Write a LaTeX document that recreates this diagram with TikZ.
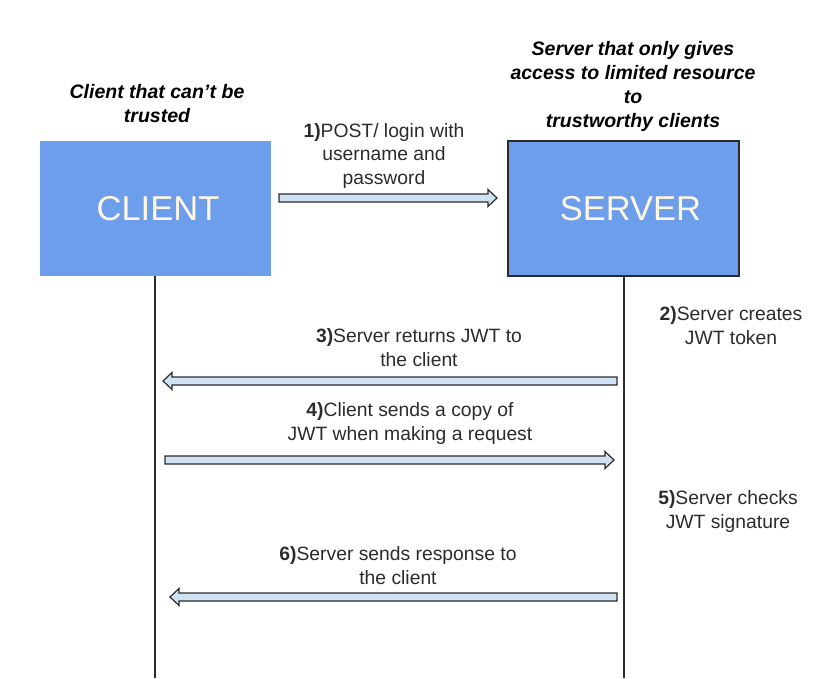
\documentclass[tikz,border=0pt]{standalone}
\usepackage{fontspec}
\setmainfont{Liberation Sans}
\usepackage{xcolor}
\usetikzlibrary{calc}

\definecolor{boxblue}{HTML}{6D9EEB}
\definecolor{arrowfill}{HTML}{CFE2F3}
\definecolor{inkgray}{HTML}{2B2B2B}
\definecolor{boxtext}{HTML}{FFF6E0}

\tikzset{
  party/.style={fill=boxblue,minimum width=231pt,minimum height=135pt,inner sep=0pt,
    text=boxtext,font=\fontsize{34.5}{38}\selectfont},
  lifeline/.style={draw=inkgray,line width=1.2pt},
  msg/.style={draw=inkgray,fill=arrowfill,line width=1.2pt,line join=miter},
  steptext/.style={align=center,text=inkgray,font=\fontsize{19.3}{23.5}\selectfont},
  headtext/.style={align=center,text=black,font=\fontsize{19.5}{24}\selectfont\bfseries\itshape}
}

% block arrow from #1 to #2
\newcommand\msgarrow[2]{%
  \draw[msg] ($(#1)+(0,-4)$) -- ($(#2)!9pt!(#1)+(0,-4)$) -- ($(#2)!9pt!(#1)+(0,-8.5)$)
    -- (#2) -- ($(#2)!9pt!(#1)+(0,8.5)$) -- ($(#2)!9pt!(#1)+(0,4)$) -- ($(#1)+(0,4)$) -- cycle;}

\begin{document}
\begin{tikzpicture}[x=1pt,y=-1pt]
  \useasboundingbox (0,0) rectangle (832,678);

  % the two parties
  \node[party] (client) at (155.5,208.5) {\hspace*{5pt}CLIENT};
  \node[party,draw=inkgray,line width=1.2pt] (server) at (623.5,208.5) {\hspace*{14pt}SERVER};

  \node[headtext] (clienthead) at (157,104) {Client that can’t be\\trusted};
  \node[headtext] (serverhead) at (633,86) {Server that only gives\\access to limited resource\\to\\trustworthy clients};

  % lifelines
  \coordinate (cend) at (155,678);
  \coordinate (send) at (624,678);
  \draw[lifeline] (client.south -| cend) -- (cend);
  \draw[lifeline] (server.south -| send) -- (send);

  % message ends
  \coordinate (c1) at (279,198);  \coordinate (s1) at (497,198);
  \coordinate (s3) at (617,381);  \coordinate (c3) at (163,381);
  \coordinate (c4) at (165,460);  \coordinate (s4) at (614,460);
  \coordinate (s6) at (617,597);  \coordinate (c6) at (170,597);

  \msgarrow{c1}{s1}
  \msgarrow{s3}{c3}
  \msgarrow{c4}{s4}
  \msgarrow{s6}{c6}

  % step labels
  \node[steptext] (step1) at (384,156) {\textbf{1)}POST/ login with\\username and\\password};
  \node[steptext] (step2) at (731,325.5) {\textbf{2)}Server creates\\JWT token};
  \node[steptext] (step3) at (419,347.5) {\textbf{3)}Server returns JWT to\\the client};
  \node[steptext] (step4) at (410,423.5) {\textbf{4)}Client sends a copy of\\JWT when making a request};
  \node[steptext] (step5) at (728,511.5) {\textbf{5)}Server checks\\JWT signature};
  \node[steptext] (step6) at (398,565.5) {\textbf{6)}Server sends response to\\the client};
\end{tikzpicture}
\end{document}
